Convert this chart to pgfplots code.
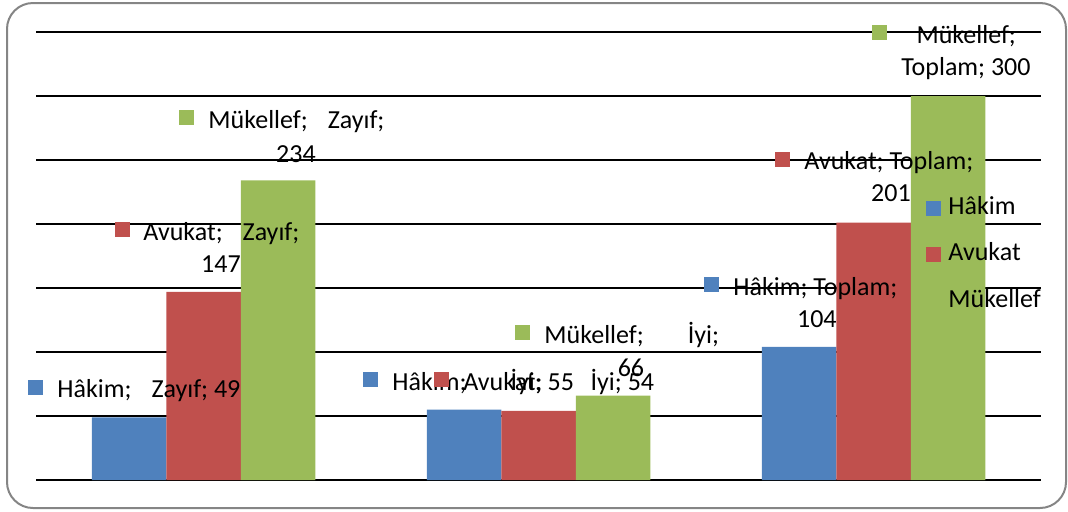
\documentclass[border=0pt]{standalone}
\usepackage{pgfplots}
\pgfplotsset{compat=1.18}
\usepackage{fontspec}
\setmainfont{Carlito}
\definecolor{hakim}{RGB}{79,129,189}
\definecolor{avukat}{RGB}{192,80,77}
\definecolor{mukellef}{RGB}{155,187,89}
\newcommand\lf{\fontsize{13pt}{16pt}\selectfont}
\newcommand\mk[2][7pt]{\raisebox{1.5pt}{\textcolor{#2}{\rule{7.5pt}{7.5pt}}}\hspace{#1}}
\begin{document}
\begin{tikzpicture}
\useasboundingbox (-18pt,-15.5pt) rectangle (516pt,240pt);
\begin{axis}[
  at={(0,0)}, anchor=south west,
  scale only axis, width=502.5pt, height=224pt,
  xmin=-0.5, xmax=2.5, ymin=0, ymax=350,
  ybar=0pt, bar width=37.25pt,
  xtick=\empty, ytick={0,50,...,350}, yticklabels={,,,,,,,},
  ymajorgrids, major grid style={black, line width=0.9pt},
  major tick length=0pt,
  axis line style={draw=none},
  clip=false,
  legend style={font=\lf, draw=none, fill=none, inner sep=0pt,
    at={(0.8856,0.634)}, anchor=north west, row sep=11.3pt, column sep=3.5pt,
    nodes={text height=9pt, text depth=3pt, inner sep=0pt}},
  legend cell align=left,
  legend image code/.code={\fill[#1] (0pt,-3.75pt) rectangle (7.5pt,3.75pt);},
]
\addplot[fill=hakim, draw=none] coordinates {(0,49) (1,55) (2,104)};
\addplot[fill=avukat, draw=none] coordinates {(0,147) (1,54) (2,201)};
\addplot[fill=mukellef, draw=none] coordinates {(0,234) (1,66) (2,300)};
\legend{Hâkim, Avukat, Mükellef}
\begin{scope}[every node/.style={inner sep=0pt, font=\lf}]
% Zayif
\node[anchor=base west] at (axis cs:-0.524,64.1) {\mk{hakim}Hâkim;\hspace{10pt}Zayıf; 49};
\node[anchor=base west] at (axis cs:-0.264,187.5) {\mk[6.5pt]{avukat}Avukat;\hspace{10pt}Zayıf;};
\node[anchor=base] at (axis cs:0.052,162.5) {147};
\node[anchor=base west] at (axis cs:-0.073,275) {\mk{mukellef}Mükellef;\hspace{10pt}Zayıf;};
\node[anchor=base] at (axis cs:0.276,248.4) {234};
% Iyi
\node[anchor=base west] at (axis cs:0.476,70.3) {\mk{hakim}Hâkim;\hspace{22pt}İyi; 55};
\node[anchor=base west] at (axis cs:0.688,70.3) {\mk{avukat}Avukat;\hspace{24pt}İyi; 54};
\node[anchor=base west] at (axis cs:0.930,107) {\mk{mukellef}Mükellef;\hspace{22pt}İyi;};
\node[anchor=base] at (axis cs:1.276,80.5) {66};
% Toplam
\node[anchor=base west] at (axis cs:1.494,144.5) {\mk{hakim}Hâkim; Toplam;};
\node[anchor=base] at (axis cs:1.831,119.5) {104};
\node[anchor=base west] at (axis cs:1.706,242.2) {\mk{avukat}Avukat; Toplam;};
\node[anchor=base] at (axis cs:2.052,217.2) {201};
\node[anchor=base west] at (axis cs:1.993,341.4) {\mk[15pt]{mukellef}Mükellef;};
\node[anchor=base] at (axis cs:2.276,316.4) {Toplam; 300};
\end{scope}
\end{axis}
\draw[line width=1pt, color=black!48, rounded corners=13pt] (-14.5pt,-14pt) rectangle (515pt,238.5pt);
\end{tikzpicture}
\end{document}
